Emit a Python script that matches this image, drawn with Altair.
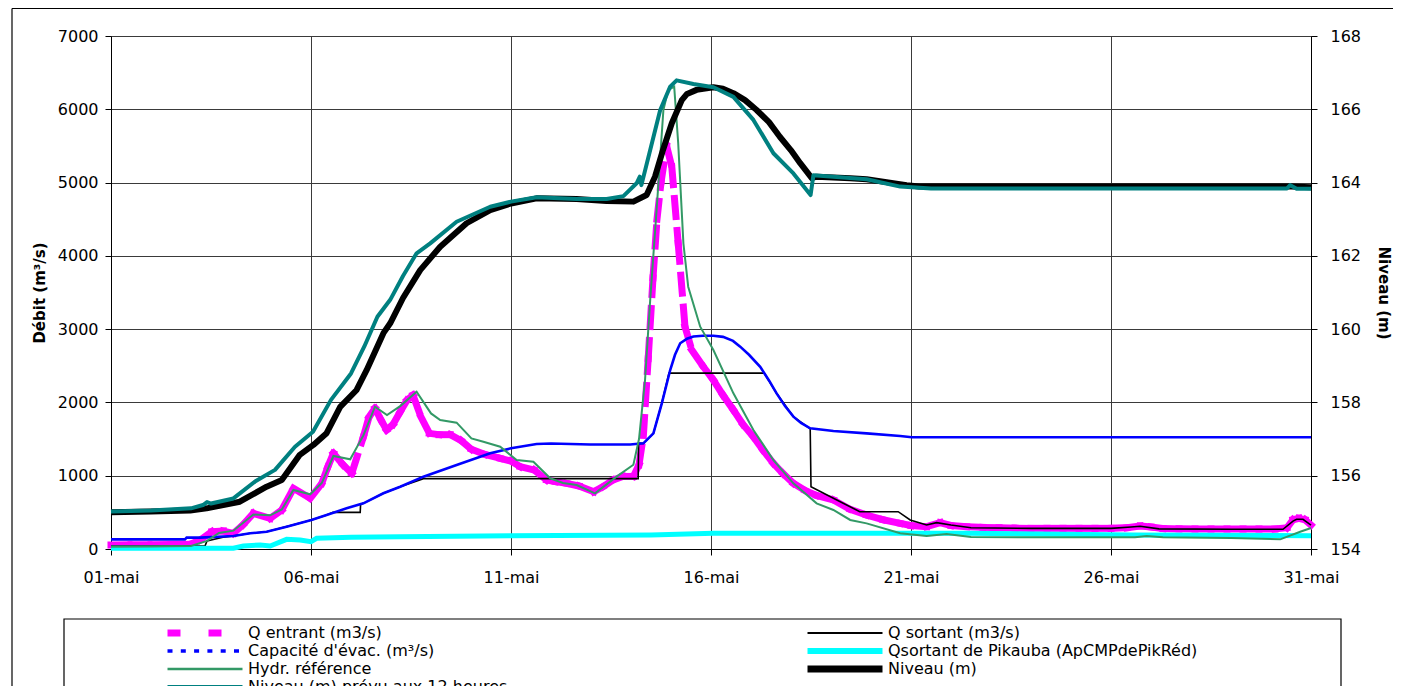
import json
import altair as alt
import pandas as pd

# ---------------- data (x = days after 01-mai) ----------------
X_TICK_VALUES = [0, 5, 10, 15, 20, 25, 30]
X_TICK_LABELS = ["01-mai", "06-mai", "11-mai", "16-mai", "21-mai", "26-mai", "31-mai"]
Y_LEFT_TICKS = [0, 1000, 2000, 3000, 4000, 5000, 6000, 7000]
Y_RIGHT_TICKS = [154, 156, 158, 160, 162, 164, 166, 168]

S_QE = "Q entrant (m3/s)"
S_QS = "Q sortant (m3/s)"
S_CAP = "Capacité d'évac. (m³/s)"
S_PIK = "Qsortant de Pikauba (ApCMPdePikRéd)"
S_HYD = "Hydr. référence"
S_NIV = "Niveau (m)"
S_PREV = "Niveau (m) prévu aux 12 heures"
# legend order (filled column by column: left column first)
SERIES = [S_QE, S_CAP, S_HYD, S_PREV, S_QS, S_PIK, S_NIV]
COLORS = ["#FF00FF", "#0000FF", "#339966", "#008080", "#000000", "#00FFFF", "#000000"]

qe_day = [0, 0.5, 1.0, 1.5, 1.98, 2.23, 2.52, 2.81, 3.06, 3.3, 3.56, 3.98, 4.27, 4.56, 4.98,
          5.27, 5.42, 5.56, 5.8, 6.02, 6.31, 6.45, 6.6, 6.75, 6.89, 7.05, 7.23, 7.4, 7.55,
          7.75, 7.96, 8.2, 8.48, 8.75, 9.01, 9.35,
          9.73, 10.0, 10.23, 10.58, 10.89, 11.11, 11.39, 11.7, 12.07, 12.3, 12.55, 12.8, 13.06,
          13.2, 13.31, 13.43, 13.55, 13.65, 13.75, 13.89, 14.02, 14.18, 14.35, 14.52, 14.81,
          15.06, 15.3, 15.56, 15.8, 16.06, 16.3, 16.56, 16.8, 17.06, 17.35, 17.64, 18.06, 18.48,
          18.89, 19.3, 19.73, 20.0, 20.39, 20.73, 21.0, 21.39, 21.8, 22.2, 22.6, 23.0, 23.4,
          23.8, 24.2, 24.6, 25.0, 25.4, 25.73, 26.0, 26.3, 26.7, 27.1, 27.5, 27.9, 28.3, 28.7,
          29.1, 29.4, 29.55, 29.7, 29.85, 30.0]
qe_val = [55, 57, 58, 60, 64, 123, 236, 245, 214, 330, 487, 419, 532, 828, 692,
          896, 1120, 1306, 1150, 1033, 1532, 1800, 1920, 1760, 1624, 1700, 1873, 2030, 2100,
          1800, 1578, 1560, 1560, 1480, 1360, 1290,
          1237, 1200, 1123, 1078, 941, 919, 896, 860, 782, 850, 941, 990, 990,
          1150, 1550, 2600, 3700, 4500, 5000, 5500, 5217, 4171, 3033, 2715, 2487,
          2306, 2100, 1897, 1700, 1532, 1350, 1169, 1030, 896, 800, 730, 669, 540,
          464, 400, 350, 320, 305, 359, 320, 305, 295, 290, 285, 282, 282,
          282, 282, 282, 282, 290, 314, 300, 280, 275, 273, 273, 273, 273, 273,
          273, 290, 400, 419, 400, 327]

qs_day = [0, 1.0, 2.0, 2.35, 2.4, 2.8, 3.06, 3.48, 3.89, 4.39, 5.01, 5.39, 5.55, 5.9, 6.23,
          6.24, 6.31, 6.81, 7.23, 7.81, 9.0, 10.5, 12.0, 13.18, 13.19, 13.31, 13.56, 13.77,
          13.95, 15.0, 16.33, 16.64, 17.06, 17.48, 17.5, 18.06, 18.72, 19.2, 19.68, 19.98,
          20.39, 20.64, 21.0, 21.5, 23.0, 25.0, 25.5, 25.73, 26.2, 28.0, 29.3, 29.55, 29.64,
          29.8, 30.0]
qs_val = [40, 40, 40, 40, 110, 160, 177, 214, 236, 305, 396, 464, 500, 500, 500,
          610, 623, 760, 850, 960, 960, 960, 960, 960, 1445, 1442, 1578, 1988,
          2400, 2400, 2400, 2124, 1806, 1640, 850, 692, 509, 509, 509, 396,
          327, 359, 327, 290, 282, 282, 300, 310, 275, 270, 269, 380, 405,
          405, 327]

cap_day = [0, 1.85, 1.89, 2.23, 3.06, 3.48, 3.89, 4.39, 5.01, 5.39, 5.89, 6.31, 6.81, 7.23,
           7.81, 8.64, 9.48, 10.0, 10.64, 11.0, 11.98, 12.98, 13.31, 13.56, 13.77, 13.98,
           14.1, 14.23, 14.4, 14.56, 14.8, 15.06, 15.3, 15.55, 15.73, 15.95, 16.23, 16.45,
           16.64, 16.85, 17.06, 17.25, 17.48, 18.06, 18.89, 19.73, 20.02, 25.0, 30.0]
cap_val = [132, 132, 155, 155, 177, 214, 236, 305, 396, 464, 555, 623, 760, 850,
           987, 1146, 1306, 1374, 1433, 1440, 1425, 1425, 1442, 1578, 1988, 2442,
           2650, 2807, 2870, 2900, 2910, 2910, 2895, 2840, 2761, 2650, 2487, 2300,
           2124, 1950, 1806, 1720, 1647, 1610, 1578, 1542, 1524, 1524, 1524]

pik_day = [0, 1.5, 3.06, 3.31, 3.73, 3.98, 4.39, 4.73, 5.0, 5.14, 6.0, 7.23, 10.0, 13.5,
           15.06, 18.0, 21.4, 25.56, 30.0]
pik_val = [10, 10, 10, 41, 55, 41, 132, 123, 100, 146, 160, 168, 180, 191,
           214, 214, 214, 191, 182]

hyd_day = [0, 1.0, 2.0, 2.4, 2.7, 3.06, 3.56, 3.98, 4.27, 4.56, 4.98, 5.27, 5.56, 5.98, 6.31,
           6.6, 6.9, 7.23, 7.64, 8.0, 8.23, 8.64, 9.01, 9.31, 9.73, 10.14, 10.56, 10.98, 11.3,
           11.64, 12.1, 12.64, 13.06, 13.2, 13.35, 13.48, 13.64, 13.81, 13.93, 14.08, 14.18,
           14.31, 14.43, 14.73, 15.06, 15.56, 16.06, 16.56, 17.06, 17.64, 18.06, 18.48, 18.89,
           19.73, 20.39, 20.89, 21.5, 23.0, 25.6, 25.89, 26.3, 28.0, 29.23, 29.73, 30.0]
hyd_val = [31, 33, 40, 110, 218, 250, 470, 460, 540, 805, 746, 900, 1269, 1224, 1550,
           1942, 1828, 1950, 2146, 1850, 1760, 1724, 1510, 1464, 1396, 1214, 1191, 965, 900,
           873, 760, 987, 1150, 1500, 2300, 3400, 4626, 5990, 6263, 6308, 5536,
           4171, 3579, 3033, 2715, 2124, 1624, 1214, 896, 623, 532, 396, 350,
           214, 177, 205, 165, 160, 160, 177, 160, 150, 132, 236, 287]

niv_day = [0, 1.0, 1.98, 2.39, 3.22, 3.89, 4.27, 4.72, 5.06, 5.39, 5.73, 6.14, 6.39, 6.81,
           6.98, 7.3, 7.73, 8.23, 8.89, 9.48, 10.0, 10.64, 11.64, 12.39, 13.06, 13.39, 13.6,
           13.8, 14.02, 14.27, 14.4, 14.64, 15.06, 15.3, 15.56, 15.85, 16.14, 16.45, 16.72,
           17.0, 17.23, 17.52, 17.64, 18.48, 18.89, 19.89, 20.2, 25.0, 29.5, 30.0]
niv_val = [155.0, 155.02, 155.05, 155.11, 155.29, 155.70, 155.88, 156.57, 156.84, 157.16,
           157.88, 158.34, 158.88, 159.89, 160.16, 160.85, 161.61, 162.25, 162.89, 163.25,
           163.43, 163.57, 163.55, 163.5, 163.48, 163.66, 164.16, 164.89, 165.62, 166.25,
           166.42, 166.53, 166.6, 166.56, 166.44, 166.25, 165.98, 165.65, 165.25, 164.88,
           164.53, 164.12, 164.16, 164.12, 164.09, 163.93, 163.89, 163.89, 163.89, 163.87]

prev_day = [0, 1.0, 2.0, 2.3, 2.4, 2.5, 3.06, 3.6, 4.1, 4.6, 5.05, 5.5, 6.0, 6.33, 6.66,
            6.98, 7.3, 7.64, 7.98, 8.64, 9.48, 10.0, 10.64, 11.64, 12.39, 12.81, 13.14, 13.22,
            13.26, 13.48, 13.73, 13.98, 14.14, 14.56, 15.06, 15.56, 16.06, 16.56, 17.06, 17.49,
            17.56, 18.89, 19.73, 20.5, 29.4, 29.48, 29.64, 30.0]
prev_val = [155.02, 155.05, 155.11, 155.2, 155.28, 155.24, 155.38, 155.84, 156.16, 156.79,
            157.2, 158.07, 158.79, 159.52, 160.34, 160.8, 161.45, 162.07, 162.34, 162.93,
            163.34, 163.48, 163.6, 163.55, 163.55, 163.63, 163.98, 164.16, 163.93, 164.89,
            165.98, 166.62, 166.79, 166.69, 166.6, 166.34, 165.71, 164.8, 164.25, 163.66,
            164.2, 164.09, 163.89, 163.84, 163.84, 163.93, 163.83, 163.83]

# ---------------- tables ----------------
def frame(days, vals, name, field="v"):
    return pd.DataFrame({"day": days, field: vals, "s": name})

qe_df = frame(qe_day, qe_val, S_QE)
qe_seg = qe_df.copy()
qe_seg["day2"] = qe_seg["day"].shift(-1)
qe_seg["v2"] = qe_seg["v"].shift(-1)
qe_seg = qe_seg.dropna()

qs_df = frame(qs_day, qs_val, S_QS)
cap_df = frame(cap_day, cap_val, S_CAP)
pik_df = frame(pik_day, pik_val, S_PIK)
hyd_df = frame(hyd_day, hyd_val, S_HYD)
niv_df = frame(niv_day, niv_val, S_NIV, "lvl")
prev_df = frame(prev_day, prev_val, S_PREV, "lvl")
# one anchor row per series: only feeds the legend (a single-point line draws nothing)
legend_df = pd.DataFrame({"day": [0] * len(SERIES), "v": [0] * len(SERIES), "s": SERIES})

# ---------------- styling ----------------
FONT = "DejaVu Sans"
GRID = "#3a3a3a"
LEG_WIDTHS = [7, 3.5, 2.5, 4, 2, 6, 7]
LEG_DASHES = [[13, 28], [5, 8.3], [1, 0], [1, 0], [1, 0], [1, 0], [1, 0]]

legend = alt.Legend(
    title=None,
    orient="none",
    legendX=53,
    legendY=588,
    columns=2,
    columnPadding=296,
    rowPadding=0,
    clipHeight=18,
    padding=0,
    symbolType="stroke",
    symbolSize=5625,
    symbolOffset=0,
    labelOffset=2,
    labelFont=FONT,
    labelFontSize=16,
    labelColor="black",
    labelLimit=500,
)

color_nolegend = alt.Color("s:N", scale=alt.Scale(domain=SERIES, range=COLORS), legend=None)
color_legend = alt.Color("s:N", scale=alt.Scale(domain=SERIES, range=COLORS), legend=legend)
width_legend = alt.StrokeWidth(
    "s:N", scale=alt.Scale(type="ordinal", domain=SERIES, range=LEG_WIDTHS), legend=legend
)
dash_legend = alt.StrokeDash("s:N", scale=alt.Scale(domain=SERIES, range=LEG_DASHES), legend=legend)

x_enc = alt.X(
    "day:Q",
    scale=alt.Scale(domain=[0, 30], nice=False, zero=False),
    axis=alt.Axis(
        values=X_TICK_VALUES,
        labelExpr=json.dumps(X_TICK_LABELS) + "[round(datum.value / 5)]",
        title=None,
        grid=True,
        gridColor=GRID,
        gridWidth=1,
        domainColor="black",
        tickColor="black",
        tickSize=6,
        labelPadding=14,
        labelFont=FONT,
        labelFontSize=16,
        labelColor="black",
        labelFlush=False,
    ),
)

y_left = alt.Y(
    "v:Q",
    scale=alt.Scale(domain=[0, 7000], nice=False),
    axis=alt.Axis(
        values=Y_LEFT_TICKS,
        title="Débit (m³/s)",
        titleFont=FONT,
        titleFontSize=15,
        titleFontWeight="bold",
        titleColor="black",
        titlePadding=10,
        grid=True,
        gridColor=GRID,
        gridWidth=1,
        domainColor="black",
        tickColor="black",
        tickSize=6,
        labelPadding=7,
        labelFont=FONT,
        labelFontSize=16,
        labelColor="black",
        format="d",
    ),
)

y_right = alt.Y(
    "lvl:Q",
    scale=alt.Scale(domain=[154, 168], nice=False, zero=False),
    axis=alt.Axis(
        orient="right",
        values=Y_RIGHT_TICKS,
        title="Niveau (m)",
        titleFont=FONT,
        titleFontSize=15,
        titleFontWeight="bold",
        titleColor="black",
        titlePadding=15,
        grid=False,
        domainColor="black",
        tickColor="black",
        tickSize=6,
        labelPadding=13,
        labelFont=FONT,
        labelFontSize=16,
        labelColor="black",
        format="d",
    ),
)

legend_layer = alt.Chart(legend_df).mark_line().encode(
    x=x_enc, y=y_left, color=color_legend, strokeWidth=width_legend, strokeDash=dash_legend
)
qe_layer = alt.Chart(qe_seg).mark_rule(strokeWidth=7, strokeDash=[18, 14], strokeCap="square").encode(
    x=x_enc, x2="day2:Q", y=y_left, y2="v2:Q", color=color_nolegend
)
qs_layer = alt.Chart(qs_df).mark_line(strokeWidth=1.6).encode(x=x_enc, y=y_left, color=color_nolegend)
cap_layer = alt.Chart(cap_df).mark_line(strokeWidth=2.6).encode(x=x_enc, y=y_left, color=color_nolegend)
pik_layer = alt.Chart(pik_df).mark_line(strokeWidth=5).encode(x=x_enc, y=y_left, color=color_nolegend)
hyd_layer = alt.Chart(hyd_df).mark_line(strokeWidth=2).encode(x=x_enc, y=y_left, color=color_nolegend)

left = alt.layer(legend_layer, qe_layer, qs_layer, cap_layer, pik_layer, hyd_layer)

niv_layer = alt.Chart(niv_df).mark_line(strokeWidth=6, strokeJoin="round").encode(
    x=x_enc, y=y_right, color=color_nolegend
)
prev_layer = alt.Chart(prev_df).mark_line(strokeWidth=4, strokeJoin="round").encode(
    x=x_enc, y=y_right, color=color_nolegend
)
right = alt.layer(niv_layer, prev_layer)

# decorative chart frame (top and left edges only are inside the picture)
one = pd.DataFrame({"k": [0]})
frame_top = alt.Chart(one).mark_rule(stroke="black", strokeWidth=1.2).encode(
    x=alt.value(-99), x2=alt.value(1300), y=alt.value(-27.5)
)
frame_left = alt.Chart(one).mark_rule(stroke="black", strokeWidth=1.2).encode(
    x=alt.value(-99), y=alt.value(-27.5), y2=alt.value(700)
)
legend_box = alt.Chart(one).mark_rect(fill=None, stroke="black", strokeWidth=1.2).encode(
    x=alt.value(-47), x2=alt.value(1230), y=alt.value(583), y2=alt.value(800)
)

chart = (
    alt.layer(frame_top, frame_left, legend_box, left, right)
    .resolve_scale(y="independent")
    .properties(
        width=1200,
        height=513,
        autosize=alt.AutoSizeParams(type="none"),
        padding={"left": 103, "top": 28, "right": 82, "bottom": 137},
        background="white",
    )
    .configure_view(stroke=None)
    .configure(font=FONT)
)

chart.save("out.html", embed_options={"renderer": "svg", "actions": False})
